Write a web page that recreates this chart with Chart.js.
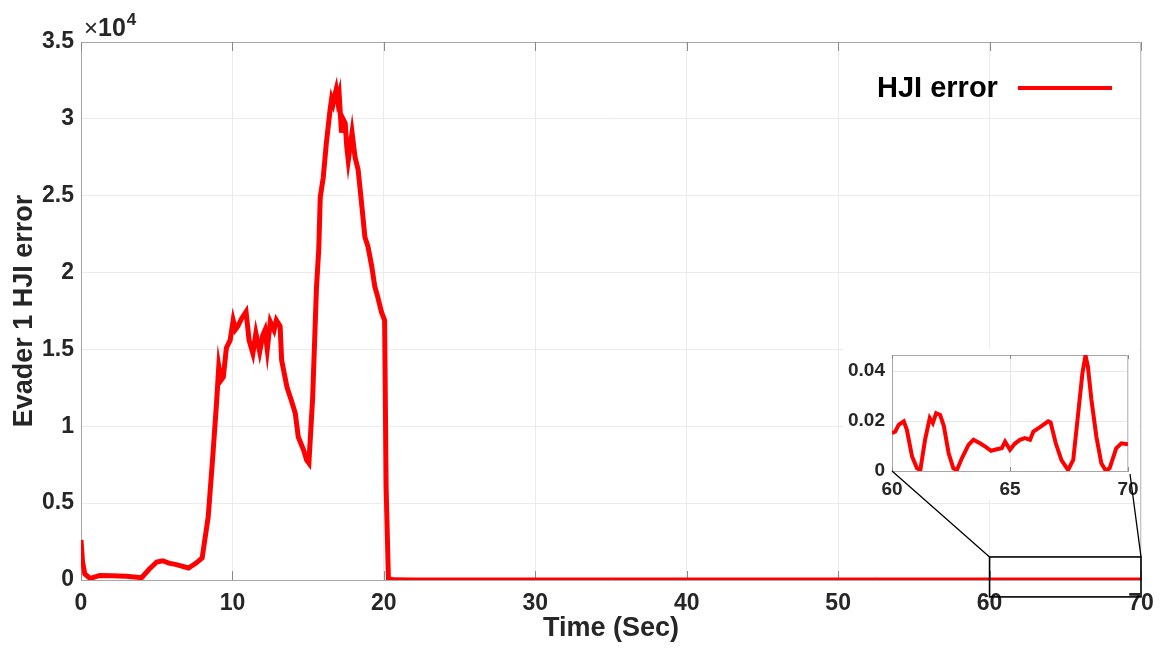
<!DOCTYPE html>
<html>
<head>
<meta charset="utf-8">
<title>Evader 1 HJI error</title>
<script src="https://cdn.jsdelivr.net/npm/chart.js@4.4.1/dist/chart.umd.min.js"></script>
<style>
  html, body { margin: 0; padding: 0; background: #fff; }
  #wrap { position: relative; width: 1161px; height: 654px; }
  #mainChart, #overlay { position: absolute; left: 0; top: 0; }
  #overlay { pointer-events: none; }
  #insetChart { position: absolute; left: 843px; top: 348px; background: #fff; }
</style>
</head>
<body>
<div id="wrap">
  <canvas id="mainChart" width="1161" height="654"></canvas>
  <canvas id="insetChart" width="296" height="152"></canvas>
  <canvas id="overlay" width="1161" height="654"></canvas>
</div>
<script>
// HJI error of evader 1 during the first ~20 s
const timeEarly = [0, 0.1, 0.25, 0.6, 1.25, 2.0, 3.0, 4.0, 4.5, 5.0,
  5.4, 5.8, 6.3, 7.1, 7.6, 8.0, 8.4, 8.7, 8.95, 9.1,
  9.25, 9.4, 9.6, 9.85, 10.05, 10.2, 10.35, 10.6, 10.9, 11.1,
  11.35, 11.55, 11.8, 12.0, 12.15, 12.3, 12.5, 12.75, 12.9, 13.15,
  13.25, 13.6, 13.95, 14.15, 14.35, 14.7, 14.9, 15.05, 15.3, 15.55,
  15.7, 15.8, 16.0, 16.2, 16.45, 16.55, 16.65, 16.75, 16.85, 16.95,
  17.05, 17.2, 17.3, 17.45, 17.55, 17.65, 17.9, 18.1, 18.3, 18.55,
  18.75, 18.95, 19.2, 19.4, 19.6, 19.85, 20.05, 20.15, 20.3, 20.6];
const errEarly = [2600, 1200, 400, 100, 300, 280, 250, 150, 700, 1170,
  1250, 1100, 1000, 780, 1100, 1430, 4100, 8000, 11500, 13900,
  13000, 13200, 15100, 15600, 16900, 16300, 16500, 17000, 17450, 15600,
  14750, 16050, 14850, 15900, 16250, 15000, 16800, 16250, 16900, 16500,
  14300, 12550, 11500, 10850, 9300, 8450, 7800, 7600, 11900, 19000,
  21500, 24900, 26200, 28400, 30600, 31300, 31000, 31500, 31900, 31200,
  31600, 29100, 30000, 29700, 28200, 27300, 29100, 27500, 26700, 24300,
  22300, 21700, 20400, 19100, 18400, 17400, 16900, 6000, 100, 10];

// after convergence the error stays around 1e-2
const timeMid = [22, 26, 30, 35, 40, 45, 50, 55, 59];
const errMid = [0.012, 0.009, 0.014, 0.011, 0.008, 0.013, 0.010, 0.012, 0.011];

// last 10 s, shown enlarged in the inset
const insetTime = [60, 60.14, 60.28, 60.5, 60.63, 60.85, 61.06, 61.2, 61.4, 61.6,
  61.73, 61.87, 62.04, 62.2, 62.4, 62.6, 62.75, 62.96, 63.24, 63.45,
  63.73, 64.0, 64.2, 64.44, 64.65, 64.79, 65.0, 65.2, 65.42, 65.63,
  65.85, 65.99, 66.27, 66.62, 66.72, 66.94, 67.18, 67.46, 67.68, 67.89,
  68.07, 68.2, 68.3, 68.45, 68.66, 68.87, 69.06, 69.22, 69.5, 69.72, 70];
const insetErr = [0.0152, 0.0158, 0.0185, 0.0199, 0.0165, 0.0058, 0.0011, 0.0004, 0.0125, 0.0212,
  0.0192, 0.0232, 0.0225, 0.0179, 0.0071, 0.0011, 0.0004, 0.0051, 0.0105, 0.0125,
  0.0111, 0.0095, 0.0081, 0.0087, 0.0091, 0.0118, 0.0085, 0.0109, 0.0125, 0.0132,
  0.0125, 0.0158, 0.0176, 0.0199, 0.0195, 0.0111, 0.0044, 0.0004, 0.0044, 0.0232,
  0.0393, 0.0463, 0.0420, 0.0286, 0.0138, 0.0031, 0.0001, 0.0011, 0.0091, 0.0111, 0.0107];

const mainXTicks = [0, 10, 20, 30, 40, 50, 60, 70];
const mainYTicks = [0, 5000, 10000, 15000, 20000, 25000, 30000, 35000];
const insetXTicks = [60, 65, 70];
const insetYTicks = [0, 0.02, 0.04];

const seriesName = "HJI error";
const RED = "#ff0000";
const TEXT = "#262626";
const FONT = "'Liberation Sans', Arial, sans-serif";

// zoom rectangle on the main axes (data units)
const zoomBox = { x0: 60, x1: 70, y0: -1100, y1: 1500 };
const INSET_LEFT = 843, INSET_TOP = 348;

function toPoints(xs, ys) {
  return xs.map((x, i) => ({ x: x, y: ys[i] }));
}

// keep the plot edges where the layout padding puts them
function fixHeight(h) {
  return (s) => { s.height = h; s.paddingLeft = 0; s.paddingRight = 0; };
}
function fixWidth(w) {
  return (s) => { s.width = w; s.paddingTop = 0; s.paddingBottom = 0; };
}

// box on all four sides plus short inward ticks on the x axis
const framePlugin = {
  id: "frame",
  beforeDatasetsDraw(chart, args, opts) {
    const { ctx, chartArea: a, scales } = chart;
    ctx.save();
    ctx.lineWidth = 1;
    ctx.strokeStyle = "#a6a6a6";
    ctx.beginPath();
    ctx.moveTo(a.left, a.top + 0.5);
    ctx.lineTo(a.right, a.top + 0.5);
    ctx.stroke();
    ctx.strokeStyle = "#c4c4c4";
    ctx.beginPath();
    ctx.moveTo(a.right - 0.5, a.top);
    ctx.lineTo(a.right - 0.5, a.bottom);
    ctx.stroke();
    ctx.strokeStyle = "#8a8a8a";
    const len = opts.tickLen || 0;
    scales.x.ticks.forEach((t) => {
      const px = Math.round(scales.x.getPixelForValue(t.value)) + 0.5;
      ctx.beginPath();
      ctx.moveTo(px, a.bottom);
      ctx.lineTo(px, a.bottom - len);
      ctx.moveTo(px, a.top);
      ctx.lineTo(px, a.top + len);
      ctx.stroke();
    });
    ctx.restore();
  },
};

// ×10^4 multiplier and the legend inside the axes
const decorPlugin = {
  id: "decor",
  afterDraw(chart) {
    const { ctx, chartArea: a } = chart;
    ctx.save();
    ctx.fillStyle = TEXT;
    ctx.textBaseline = "alphabetic";
    ctx.textAlign = "left";
    ctx.font = "24px " + FONT;
    ctx.fillText("\u00d7", a.left + 3, 36);
    const mw = ctx.measureText("\u00d7").width;
    ctx.font = "bold 25px " + FONT;
    ctx.fillText("10", a.left + 3 + mw, 36);
    const tw = ctx.measureText("10").width;
    ctx.font = "bold 17px " + FONT;
    ctx.fillText("4", a.left + 4 + mw + tw, 25);

    ctx.fillStyle = "#000";
    ctx.font = "bold 29px " + FONT;
    ctx.textBaseline = "middle";
    ctx.fillText(seriesName, 877, 89);
    ctx.strokeStyle = RED;
    ctx.lineWidth = 4;
    ctx.beginPath();
    ctx.moveTo(1018, 88);
    ctx.lineTo(1112, 88);
    ctx.stroke();
    ctx.restore();
  },
};

const mainChart = new Chart(document.getElementById("mainChart"), {
  type: "line",
  data: {
    datasets: [{
      label: seriesName,
      data: toPoints(timeEarly.concat(timeMid, insetTime), errEarly.concat(errMid, insetErr)),
      borderColor: RED,
      borderWidth: 5,
      pointRadius: 0,
      tension: 0,
    }],
  },
  options: {
    responsive: false,
    animation: false,
    devicePixelRatio: 1,
    layout: { padding: { top: 42, right: 20, left: 0, bottom: 0 } },
    plugins: {
      legend: { display: false },
      tooltip: { enabled: false },
      frame: { tickLen: 9 },
    },
    scales: {
      x: {
        type: "linear",
        min: 0,
        max: 70,
        afterBuildTicks: (s) => { s.ticks = mainXTicks.map((v) => ({ value: v })); },
        afterFit: fixHeight(74),
        grid: { color: "#ebebeb", drawTicks: false },
        border: { color: "#a6a6a6" },
        ticks: { color: TEXT, padding: 10, maxRotation: 0, font: { family: FONT, size: 23, weight: "bold" } },
        title: {
          display: true,
          text: "Time (Sec)",
          color: TEXT,
          padding: { top: 0, bottom: 9 },
          font: { family: FONT, size: 27, weight: "bold" },
        },
      },
      y: {
        min: 0,
        max: 35000,
        afterBuildTicks: (s) => { s.ticks = mainYTicks.map((v) => ({ value: v })); },
        afterFit: fixWidth(81),
        grid: { color: "#ebebeb", drawTicks: false },
        border: { color: "#a6a6a6" },
        ticks: { color: TEXT, padding: 7, font: { family: FONT, size: 23, weight: "bold" },
          callback: (v) => String(v / 10000) },
        title: {
          display: true,
          text: "Evader 1 HJI error",
          color: TEXT,
          padding: { top: 8, bottom: 0 },
          font: { family: FONT, size: 27, weight: "bold" },
        },
      },
    },
  },
  plugins: [framePlugin, decorPlugin],
});

const insetChart = new Chart(document.getElementById("insetChart"), {
  type: "line",
  data: {
    datasets: [{
      data: toPoints(insetTime, insetErr),
      borderColor: RED,
      borderWidth: 4,
      pointRadius: 0,
      tension: 0,
    }],
  },
  options: {
    responsive: false,
    animation: false,
    devicePixelRatio: 1,
    layout: { padding: { top: 7, right: 11, left: 0, bottom: 0 } },
    plugins: {
      legend: { display: false },
      tooltip: { enabled: false },
      frame: { tickLen: 4 },
    },
    scales: {
      x: {
        type: "linear",
        min: 60,
        max: 70,
        afterBuildTicks: (s) => { s.ticks = insetXTicks.map((v) => ({ value: v })); },
        afterFit: fixHeight(29),
        grid: { color: "#e8e8e8", drawTicks: false },
        border: { color: "#a6a6a6" },
        ticks: { color: TEXT, padding: 7, font: { family: FONT, size: 19, weight: "bold" }, maxRotation: 0 },
      },
      y: {
        min: 0,
        max: 0.0465,
        afterBuildTicks: (s) => { s.ticks = insetYTicks.map((v) => ({ value: v })); },
        afterFit: fixWidth(49),
        grid: { color: "#e8e8e8", drawTicks: false },
        border: { color: "#a6a6a6" },
        ticks: { color: TEXT, padding: 7, font: { family: FONT, size: 19, weight: "bold" },
          callback: (v) => String(v) },
      },
    },
  },
  plugins: [framePlugin],
});

// zoom rectangle on the main axes and the lines joining it to the inset
(function drawZoomLinks() {
  const ctx = document.getElementById("overlay").getContext("2d");
  const sx = mainChart.scales.x, sy = mainChart.scales.y;
  const bx0 = sx.getPixelForValue(zoomBox.x0);
  const bx1 = sx.getPixelForValue(zoomBox.x1);
  const by0 = sy.getPixelForValue(zoomBox.y1);
  const by1 = sy.getPixelForValue(zoomBox.y0);
  const ia = insetChart.chartArea;
  ctx.strokeStyle = "#000";
  ctx.lineWidth = 1.6;
  ctx.strokeRect(bx0, by0, bx1 - bx0, by1 - by0);
  ctx.lineWidth = 1.3;
  ctx.beginPath();
  ctx.moveTo(INSET_LEFT + ia.left, INSET_TOP + ia.bottom);
  ctx.lineTo(bx0, by0);
  ctx.moveTo(INSET_LEFT + ia.right + 2, INSET_TOP + ia.bottom + 3);
  ctx.lineTo(bx1, by0);
  ctx.stroke();
})();
</script>
</body>
</html>
